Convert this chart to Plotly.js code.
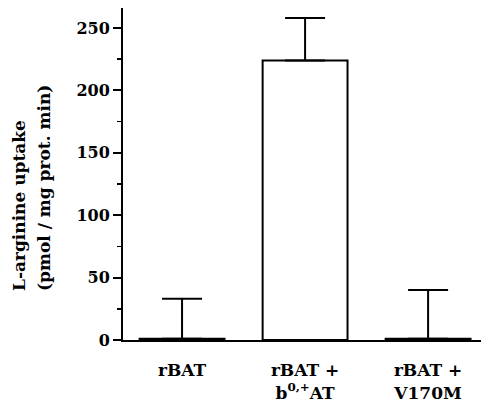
<!DOCTYPE html>
<html>
<head>
<meta charset="utf-8">
<script src="https://cdn.plot.ly/plotly-3.0.1.min.js"></script>
<style>
html,body{margin:0;padding:0;background:#fff;}
#chart{width:483px;height:409px;}
</style>
</head>
<body>
<div id="chart"></div>
<script>
// Data
var categories = ["rBAT", "rBAT +<br>b<sup>0,+</sup>AT", "rBAT +<br>V170M"];
var uptake = [1, 224, 1];          // pmol / mg prot. min
var errorUp = [32, 34, 39];        // upward error bar lengths
var yTickVals = [0, 50, 100, 150, 200, 250];

var FONT = "DejaVu Serif, Liberation Serif, serif";

var trace = {
  type: "bar",
  x: categories,
  y: uptake,
  width: 0.69,
  marker: {color: "#ffffff", line: {color: "#000000", width: 2}},
  error_y: {
    type: "data",
    symmetric: false,
    array: errorUp,
    arrayminus: [0, 0, 0],
    color: "#000000",
    thickness: 2,
    width: 20
  },
  hoverinfo: "none"
};

var layout = {
  width: 483,
  height: 409,
  margin: {l: 123, r: 2, t: 8, b: 69},
  paper_bgcolor: "#ffffff",
  plot_bgcolor: "#ffffff",
  showlegend: false,
  font: {family: FONT, color: "#000000", weight: "bold"},
  xaxis: {
    type: "category",
    range: [-0.48, 2.43],
    showline: true,
    linecolor: "#000000",
    linewidth: 2,
    ticks: "",
    ticklabelstandoff: 14,
    showgrid: false,
    zeroline: false,
    tickfont: {family: FONT, size: 17, color: "#000000", weight: "bold"},
    fixedrange: true
  },
  yaxis: {
    range: [0, 266],
    tickvals: yTickVals,
    ticktext: yTickVals.map(String),
    showline: true,
    linecolor: "#000000",
    linewidth: 2,
    ticks: "outside",
    ticklen: 8,
    tickwidth: 2,
    tickcolor: "#000000",
    minor: {dtick: 25, tick0: 25, ticks: "outside", ticklen: 4, tickwidth: 1.5, tickcolor: "#000000", showgrid: false},
    showgrid: false,
    zeroline: false,
    tickfont: {family: FONT, size: 16, color: "#000000", weight: "bold"},
    fixedrange: true
  },
  annotations: [
    {
      text: "L-arginine uptake",
      xref: "paper", yref: "paper",
      x: -0.2919, y: 0.405,
      xanchor: "center", yanchor: "middle",
      textangle: -90, showarrow: false,
      font: {family: FONT, size: 17, color: "#000000", weight: "bold"}
    },
    {
      text: "(pmol / mg prot. min)",
      xref: "paper", yref: "paper",
      x: -0.2207, y: 0.458,
      xanchor: "center", yanchor: "middle",
      textangle: -90, showarrow: false,
      font: {family: FONT, size: 17, color: "#000000", weight: "bold"}
    }
  ]
};

Plotly.newPlot("chart", [trace], layout, {staticPlot: true, displayModeBar: false});
</script>
</body>
</html>
